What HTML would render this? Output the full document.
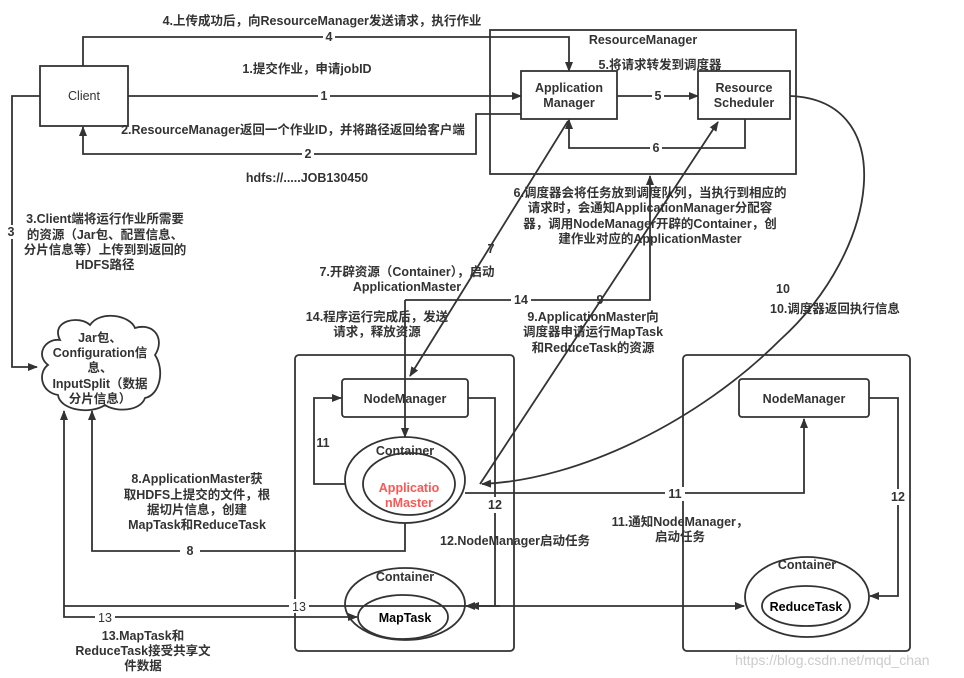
<!DOCTYPE html>
<html><head><meta charset="utf-8"><style>
body{margin:0;background:#fff}
svg{display:block}
text{font-family:"Liberation Sans","Noto Sans CJK SC",sans-serif;font-size:12.5px;font-weight:bold;fill:#333}
.c{text-anchor:middle}
.n{font-weight:normal}
</style></head><body>
<svg width="964" height="678" viewBox="0 0 964 678" xmlns="http://www.w3.org/2000/svg">
<defs><marker id="a" markerWidth="10" markerHeight="10" refX="9" refY="5" orient="auto" markerUnits="userSpaceOnUse"><path d="M0,1 L10,5 L0,9 Z" fill="#333"/></marker></defs>
<g fill="none" stroke="#333" stroke-width="1.8">
<rect x="40" y="66" width="88" height="60"/>
<rect x="490" y="30" width="306" height="144"/>
<rect x="521" y="71" width="96" height="48"/>
<rect x="698" y="71" width="92" height="48"/>
<rect x="295" y="355" width="219" height="296" rx="4"/>
<rect x="683" y="355" width="227" height="296" rx="4"/>
<rect x="342" y="379" width="126" height="38" rx="3"/>
<rect x="739" y="379" width="130" height="38" rx="3"/>
<ellipse cx="405" cy="480" rx="60" ry="43"/>
<ellipse cx="409" cy="484" rx="46" ry="31"/>
<ellipse cx="405" cy="604" rx="60" ry="36"/>
<ellipse cx="403" cy="617" rx="45" ry="22"/>
<ellipse cx="807" cy="597" rx="62" ry="40"/>
<ellipse cx="806" cy="606" rx="44" ry="20"/>
<path d="M60,340 C50,320 80,315 90,325 C100,310 130,315 135,328 C155,322 165,340 155,355 C165,370 160,395 145,398 C140,412 115,412 105,405 C90,415 60,410 58,395 C40,392 38,372 48,365 C35,355 45,338 60,340 Z"/>
<path d="M83,66 V37 H569 V71" marker-end="url(#a)"/>
<path d="M128,96 H521" marker-end="url(#a)"/>
<path d="M521,114 H476 V154 H83 V127" marker-end="url(#a)"/>
<path d="M617,96 H698" marker-end="url(#a)"/>
<path d="M745,119 V148 H569 V120" marker-end="url(#a)"/>
<path d="M40,96 H12 V367 H37" marker-end="url(#a)"/>
<path d="M568,121 L410,376" marker-end="url(#a)"/>
<path d="M405,300 V437" marker-end="url(#a)"/>
<path d="M405,300 H650 V176" marker-end="url(#a)"/>
<path d="M480,484 L718,122" marker-end="url(#a)"/>
<path d="M790,96 C900,100 880,250 780,340 C700,420 580,480 482,484" marker-end="url(#a)"/>
<path d="M465,493 H804 V419" marker-end="url(#a)"/>
<path d="M345,484 H314 V398 H341" marker-end="url(#a)"/>
<path d="M468,398 H495 V606 H466" marker-end="url(#a)"/>
<path d="M869,398 H898 V596 H870" marker-end="url(#a)"/>
<path d="M475,606 H64 V411" marker-end="url(#a)"/>
<path d="M64,606 V617 H357" marker-end="url(#a)"/>
<path d="M495,606 H744" marker-end="url(#a)"/>
<path d="M500,606 H470" marker-end="url(#a)"/>
<path d="M405,523 V551 H92 V411" marker-end="url(#a)"/>
</g>
<g>
<rect x="323" y="30" width="12" height="14" fill="#fff"/><text x="329" y="41" class="c">4</text>
<rect x="318" y="89" width="12" height="14" fill="#fff"/><text x="324" y="100" class="c">1</text>
<rect x="302" y="147" width="12" height="14" fill="#fff"/><text x="308" y="158" class="c">2</text>
<rect x="652" y="89" width="12" height="14" fill="#fff"/><text x="658" y="100" class="c">5</text>
<rect x="650" y="141" width="12" height="14" fill="#fff"/><text x="656" y="152" class="c">6</text>
<rect x="5" y="225" width="12" height="14" fill="#fff"/><text x="11" y="236" class="c">3</text>
<text x="491" y="253" class="c">7</text>
<rect x="511" y="293" width="20" height="14" fill="#fff"/><text x="521" y="304" class="c">14</text>
<text x="600" y="304" class="c">9</text>
<text x="783" y="293" class="c">10</text>
<rect x="665" y="487" width="20" height="14" fill="#fff"/><text x="675" y="498" class="c">11</text>
<text x="323" y="447" class="c">11</text>
<rect x="485" y="497" width="20" height="16" fill="#fff"/><text x="495" y="509" class="c">12</text>
<rect x="888" y="489" width="20" height="16" fill="#fff"/><text x="898" y="501" class="c">12</text>
<rect x="289" y="599" width="20" height="14" fill="#fff"/><text x="299" y="611" class="c n">13</text>
<rect x="95" y="610" width="20" height="14" fill="#fff"/><text x="105" y="622" class="c n">13</text>
<rect x="180" y="544" width="20" height="14" fill="#fff"/><text x="190" y="555" class="c">8</text>
</g>
<text x="84" y="100" class="c n">Client</text>
<text x="643" y="44" class="c">ResourceManager</text>
<text x="569" y="92" class="c">Application</text>
<text x="569" y="107" class="c">Manager</text>
<text x="744" y="92" class="c">Resource</text>
<text x="744" y="107" class="c">Scheduler</text>
<text x="405" y="403" class="c">NodeManager</text>
<text x="804" y="403" class="c">NodeManager</text>
<text x="405" y="455" class="c">Container</text>
<text x="409" y="492" class="c" style="fill:#f55">Applicatio</text>
<text x="409" y="507" class="c" style="fill:#f55">nMaster</text>
<text x="405" y="581" class="c">Container</text>
<text x="405" y="622" class="c" style="fill:#000">MapTask</text>
<text x="807" y="569" class="c">Container</text>
<text x="806" y="611" class="c" style="fill:#000">ReduceTask</text>
<text x="100" y="342" class="c">Jar包、</text>
<text x="100" y="357" class="c">Configuration信</text>
<text x="100" y="372" class="c">息、</text>
<text x="100" y="388" class="c">InputSplit（数据</text>
<text x="100" y="403" class="c">分片信息）</text>
<text x="322" y="25" class="c">4.上传成功后，向ResourceManager发送请求，执行作业</text>
<text x="307" y="73" class="c">1.提交作业，申请jobID</text>
<text x="293" y="134" class="c">2.ResourceManager返回一个作业ID，并将路径返回给客户端</text>
<text x="307" y="182" class="c">hdfs://.....JOB130450</text>
<text x="660" y="69" class="c">5.将请求转发到调度器</text>
<text x="105" y="223" class="c">3.Client端将运行作业所需要</text>
<text x="105" y="239" class="c">的资源（Jar包、配置信息、</text>
<text x="105" y="254" class="c">分片信息等）上传到到返回的</text>
<text x="105" y="269" class="c">HDFS路径</text>
<text x="650" y="197" class="c">6.调度器会将任务放到调度队列，当执行到相应的</text>
<text x="650" y="212" class="c">请求时，会通知ApplicationManager分配容</text>
<text x="650" y="228" class="c">器，调用NodeManager开辟的Container，创</text>
<text x="650" y="243" class="c">建作业对应的ApplicationMaster</text>
<text x="407" y="276" class="c">7.开辟资源（Container），启动</text>
<text x="407" y="291" class="c">ApplicationMaster</text>
<text x="377" y="321" class="c">14.程序运行完成后，发送</text>
<text x="377" y="336" class="c">请求，释放资源</text>
<text x="593" y="321" class="c">9.ApplicationMaster向</text>
<text x="593" y="336" class="c">调度器申请运行MapTask</text>
<text x="593" y="352" class="c">和ReduceTask的资源</text>
<text x="770" y="313">10.调度器返回执行信息</text>
<text x="197" y="483" class="c">8.ApplicationMaster获</text>
<text x="197" y="499" class="c">取HDFS上提交的文件，根</text>
<text x="197" y="514" class="c">据切片信息，创建</text>
<text x="197" y="529" class="c">MapTask和ReduceTask</text>
<text x="440" y="545">12.NodeManager启动任务</text>
<text x="680" y="526" class="c">11.通知NodeManager，</text>
<text x="680" y="541" class="c">启动任务</text>
<text x="143" y="640" class="c">13.MapTask和</text>
<text x="143" y="655" class="c">ReduceTask接受共享文</text>
<text x="143" y="670" class="c">件数据</text>
<text x="735" y="665" style="fill:#ccc;font-weight:normal;font-size:14px">https://blog.csdn.net/mqd_chan</text>
</svg>
</body></html>
